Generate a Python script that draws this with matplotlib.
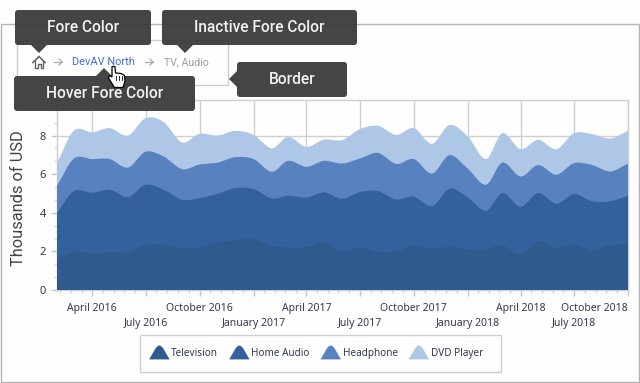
import numpy as np
import pandas as pd
import matplotlib
matplotlib.use('Agg')
import matplotlib.pyplot as plt
import matplotlib.dates as mdates
from matplotlib.legend_handler import HandlerBase
from matplotlib.patches import FancyBboxPatch, PathPatch, Polygon, Rectangle
from matplotlib.path import Path
from matplotlib.ticker import AutoMinorLocator

plt.rcParams['font.family'] = ['Noto Sans', 'DejaVu Sans']

# monthly values, Feb 2016 - Oct 2018
months = pd.date_range('2016-02-01', '2018-10-01', freq='MS')
television = [1.60, 1.97, 1.90, 1.95, 1.95, 2.31, 2.34, 2.14, 2.22, 2.47, 2.57,
              2.64, 2.29, 2.21, 2.21, 2.47, 1.98, 2.21, 1.98, 2.00, 2.31, 2.14,
              2.26, 2.09, 2.12, 2.31, 1.83, 2.53, 2.17, 2.36, 2.05, 2.31, 2.38]
home_audio = [2.38, 3.15, 3.13, 3.24, 2.86, 3.14, 2.85, 2.53, 2.54, 2.51, 2.71,
              2.58, 2.45, 2.67, 2.58, 2.58, 2.74, 2.86, 3.14, 2.69, 2.52, 2.20,
              2.98, 2.70, 1.98, 2.71, 2.48, 2.49, 2.30, 2.61, 2.55, 2.28, 2.50]
headphone = [1.42, 1.69, 1.75, 1.59, 1.53, 1.71, 1.72, 1.59, 1.74, 1.62, 1.60,
             1.56, 1.38, 1.81, 1.59, 1.64, 1.83, 1.74, 1.98, 1.84, 1.95, 1.69,
             1.74, 1.49, 1.35, 1.58, 1.57, 1.45, 1.50, 1.60, 1.87, 1.55, 1.67]
dvd_player = [1.17, 1.45, 1.39, 1.60, 1.66, 1.74, 1.78, 1.38, 1.59, 1.40, 1.36,
              1.25, 1.22, 1.24, 1.03, 1.10, 1.21, 1.52, 1.40, 1.50, 1.60, 1.54,
              1.57, 1.67, 1.33, 1.52, 1.41, 1.31, 1.32, 1.55, 1.60, 1.70, 1.69]
series_names = ['Television', 'Home Audio', 'Headphone', 'DVD Player']
series_colors = ['#2e5a8e', '#33619b', '#5881bf', '#aec7e6']
series_values = [television, home_audio, headphone, dvd_player]

W, H = 640, 383
BG = '#fdfefd'
GRID = '#cfcfcf'
TEXT = '#343a4e'
CALLOUT = '#3b3c39'


def smooth_edge(x, y):
    # bezier segments through the monthly points, same look as a spline area
    xs = np.asarray(x, dtype=float)
    ys = np.asarray(y, dtype=float)
    dx = np.gradient(xs)
    dy = np.gradient(ys)
    verts = []
    for i in range(len(xs) - 1):
        verts.append((xs[i] + dx[i] / 3, ys[i] + dy[i] / 3))
        verts.append((xs[i + 1] - dx[i + 1] / 3, ys[i + 1] - dy[i + 1] / 3))
        verts.append((xs[i + 1], ys[i + 1]))
    return verts


def spline_area(ax, x, top, color, zorder):
    verts = [(x[0], 0), (x[0], top[0])] + smooth_edge(x, top) + [(x[-1], 0), (x[0], 0)]
    codes = [Path.MOVETO, Path.LINETO] + [Path.CURVE4] * (3 * (len(x) - 1)) + [Path.LINETO, Path.CLOSEPOLY]
    ax.add_patch(PathPatch(Path(verts, codes), facecolor=color, edgecolor='none', zorder=zorder))


class HumpHandler(HandlerBase):
    def create_artists(self, legend, orig, xd, yd, width, height, fontsize, trans):
        w, h = width, height
        verts = [(0, 0), (w * 0.2, h * 0.45), (w * 0.32, h), (w * 0.5, h),
                 (w * 0.68, h), (w * 0.8, h * 0.45), (w, 0), (0, 0)]
        codes = [Path.MOVETO, Path.CURVE4, Path.CURVE4, Path.CURVE4,
                 Path.CURVE4, Path.CURVE4, Path.CURVE4, Path.CLOSEPOLY]
        p = PathPatch(Path([(vx - xd, vy - yd) for vx, vy in verts], codes),
                      facecolor=orig.get_facecolor(), edgecolor='none', transform=trans)
        return [p]


fig = plt.figure(figsize=(W / 100, H / 100), dpi=100, facecolor=BG)
ax = fig.add_axes([57 / W, (H - 290) / H, 571 / W, 190 / H], facecolor=BG)

x = mdates.date2num(months)
top = np.cumsum(series_values, axis=0)
for n in range(len(series_names)):
    spline_area(ax, x, top[n], series_colors[n], 3 + 4 - n)

ax.set_xlim(x[0], x[-1])
ax.set_ylim(0, 9.84)
ax.set_yticks([0, 2, 4, 6, 8])
ax.yaxis.set_minor_locator(AutoMinorLocator(3))

ax.xaxis.set_major_locator(mdates.MonthLocator(bymonth=[1, 4, 7, 10]))
ax.xaxis.set_major_formatter(mdates.DateFormatter('%B %Y'))
major = ax.get_xticks()
edges = np.concatenate([[major[0] - (major[1] - major[0])], major])
minor = np.concatenate([np.linspace(a, b, 6)[1:-1] for a, b in zip(edges[:-1], edges[1:])])
ax.set_xticks(minor[minor > x[0]], minor=True)

ax.grid(True, which='major', color=GRID, linewidth=1, zorder=1)
ax.set_axisbelow(True)
for s in ax.spines.values():
    s.set_color(GRID)
    s.set_linewidth(1)
ax.tick_params(which='major', length=4, width=1, color='#c4c4c4', labelsize=7.5, labelcolor=TEXT, pad=3)
ax.tick_params(which='minor', length=2.2, width=1, color='#d4d4d4')
ax.tick_params(axis='y', labelsize=8, pad=4)

# staggered date labels, the last one kept inside the plot
for i, t in enumerate(ax.xaxis.get_major_ticks()):
    if i % 2 == 1:
        t.set_pad(16.2)
    else:
        t.set_pad(5.2)
ax.xaxis.get_major_ticks()[-1].label1.set_ha('right')

fig.text(18.5 / W, (H - 198) / H, 'Thousands of USD', rotation=90, ha='center', va='center',
         fontsize=11.8, color='#4a3f48', family=['Roboto', 'DejaVu Sans'])

handles = [Rectangle((0, 0), 1, 1, facecolor=c) for c in series_colors]
leg = fig.legend(handles, series_names, loc='center', bbox_to_anchor=(316 / W, (H - 352.5) / H),
                 ncols=4, fontsize=7.2, frameon=False, handler_map={Rectangle: HumpHandler()},
                 handlelength=2.05, handleheight=1.75, handletextpad=0.15, columnspacing=1.1,
                 borderpad=0, labelcolor=TEXT)

# annotations over the chart, in pixels
ov = fig.add_axes([0, 0, 1, 1], facecolor='none', zorder=10)
ov.set_xlim(0, W)
ov.set_ylim(H, 0)
ov.axis('off')

ov.add_patch(Rectangle((0.5, 23.5), 638.5, 358, fill=False, edgecolor='#b4b4b4', linewidth=1, zorder=1))
ov.add_patch(Rectangle((16.5, 39.5), 211, 45, fill=False, edgecolor=GRID, linewidth=1, zorder=1))
ov.add_patch(Rectangle((139.5, 334.5), 361, 37, fill=False, edgecolor=GRID, linewidth=1, zorder=1))

# breadcrumb
ov.plot([33, 39, 45], [62.5, 56.5, 62.5], color='#666666', lw=1.2, zorder=2)
ov.plot([35, 35, 37.5, 37.5, 40.5, 40.5, 43, 43], [61, 67.5, 67.5, 63.5, 63.5, 67.5, 67.5, 61],
        color='#666666', lw=1, zorder=2)
for ax0 in [54, 145]:
    ov.plot([ax0, ax0 + 8], [62, 62], color='#aaaaaa', lw=0.9, zorder=2)
    ov.plot([ax0 + 5, ax0 + 8, ax0 + 5], [59, 62, 65], color='#aaaaaa', lw=0.9, zorder=2)
ov.text(103, 62, 'DevAV North', color='#3b6fdc', fontsize=7.9, ha='center', va='center',
        family=['Roboto', 'DejaVu Sans'], zorder=2)
ov.text(186, 62, 'TV, Audio', color='#9b9ca6', fontsize=7.6, ha='center', va='center',
        family=['Roboto', 'DejaVu Sans'], zorder=2)


def callout(x0, y0, x1, y1, label, tip):
    ov.add_patch(FancyBboxPatch((x0 + 3, y0 + 3), x1 - x0 - 6, y1 - y0 - 6, boxstyle='round,pad=3,rounding_size=3',
                                facecolor=CALLOUT, edgecolor='none', alpha=0.95, zorder=5))
    ov.add_patch(Polygon(tip, closed=True, facecolor=CALLOUT, edgecolor='none', alpha=0.95, zorder=5))
    ov.text((x0 + x1) / 2, (y0 + y1) / 2, label, color='#f2f2f2', fontsize=11.2, ha='center', va='center',
            family=['Roboto', 'DejaVu Sans'], fontweight='medium', zorder=6)


callout(15, 10, 151, 45, 'Fore Color', [(31, 45), (47, 45), (39, 53)])
callout(162, 10, 357, 45, 'Inactive Fore Color', [(177, 45), (193, 45), (185, 53)])
callout(14, 76, 195, 111, 'Hover Fore Color', [(96, 76), (112, 76), (104, 68)])
callout(237, 62, 347, 97, 'Border', [(237, 71), (237, 87), (229, 79)])

# hand cursor
hand = [(112, 66.5), (115, 66.5), (115.5, 73), (121, 73.5), (124.5, 75.5), (125, 81), (123, 87.5),
        (114.5, 87.5), (108.5, 78), (109.5, 75.5), (112, 77)]
ov.add_patch(Polygon(hand, closed=True, facecolor='white', edgecolor='black', linewidth=0.9, zorder=8))
for hx in [116, 119, 122]:
    ov.plot([hx, hx], [76, 80], color='black', lw=0.6, zorder=9)

fig.savefig('out.png', dpi=100, facecolor=BG)
